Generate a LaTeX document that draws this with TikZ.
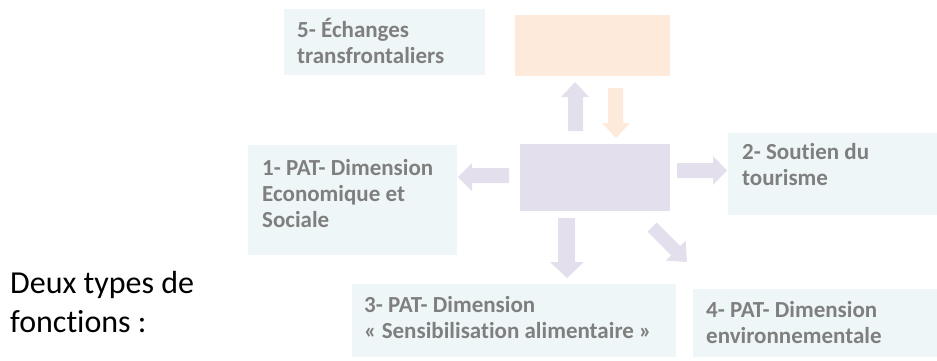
\documentclass[tikz,border=0pt]{standalone}
\usepackage{fontspec}
\setmainfont{Carlito}[Ligatures={NoCommon}]
\definecolor{boxblue}{RGB}{239,246,248}
\definecolor{lilac}{RGB}{228,223,236}
\definecolor{peach}{RGB}{253,234,218}
\definecolor{txtgray}{RGB}{127,127,127}
\begin{document}
\begin{tikzpicture}[x=1pt,y=-1pt,
  panel/.style={fill=boxblue,draw=none},
  lbl/.style={anchor=base west,inner sep=0pt,align=left,text=txtgray,
    font=\fontsize{23}{26}\selectfont\bfseries},
  blockL/.style={fill=lilac,draw=none},
  blockO/.style={fill=peach,draw=none}]
\useasboundingbox (0,0) rectangle (937,360);
% boxes
\fill[panel] (284,9) rectangle (485,75);
\node[lbl] (t5) at (297,63) {5- Échanges\\transfrontaliers};
\fill[blockO] (515,15) rectangle (670,76);
\node[inner sep=0pt,minimum width=150pt,minimum height=67pt,fill=lilac] (c) at (595,177.5) {};
\fill[panel] (248,145) rectangle (457,255);
\node[lbl] (t1) at (262,227) {1- PAT- Dimension\\Economique et\\Sociale};
\fill[panel] (728,133) rectangle (937,215);
\node[lbl] (t2) at (742,185) {2- Soutien du\\tourisme};
\fill[panel] (352,284) rectangle (676,357);
\node[lbl] (t3) at (364,338) {3- PAT- Dimension\\« Sensibilisation alimentaire »};
\fill[panel] (693,289) rectangle (937,357);
\node[lbl] (t4) at (706,343) {4- PAT- Dimension\\environnementale};
\node[anchor=base west,inner sep=0pt,align=left,font=\fontsize{32}{39}\selectfont] (dx) at (10,332) {Deux types de\\fonctions :};
% arrows
\fill[blockL] (568,131) -- (568,97) -- (561,97) -- (575,82) -- (589,97) -- (583,97) -- (583,131) -- cycle;
\fill[blockO] (608,88) -- (623,88) -- (623,123) -- (630,123) -- (616,138) -- (602,123) -- (608,123) -- cycle;
\fill[blockL] (509,168) -- (472,168) -- (472,163) -- (458,177) -- (472,191) -- (472,183) -- (509,183) -- cycle;
\fill[blockL] (677,163) -- (713,163) -- (713,156) -- (727,170.5) -- (713,185) -- (713,178) -- (677,178) -- cycle;
\fill[blockL] (558,218) -- (575,218) -- (575,262) -- (584,262) -- (567,278) -- (550,262) -- (558,262) -- cycle;
\fill[blockL] (656.6,222.4) -- (680.3,246.1) -- (685.6,240.8) -- (687,262) -- (665.8,260.6) -- (671.1,255.3) -- (647.4,231.6) -- cycle;
\end{tikzpicture}
\end{document}
